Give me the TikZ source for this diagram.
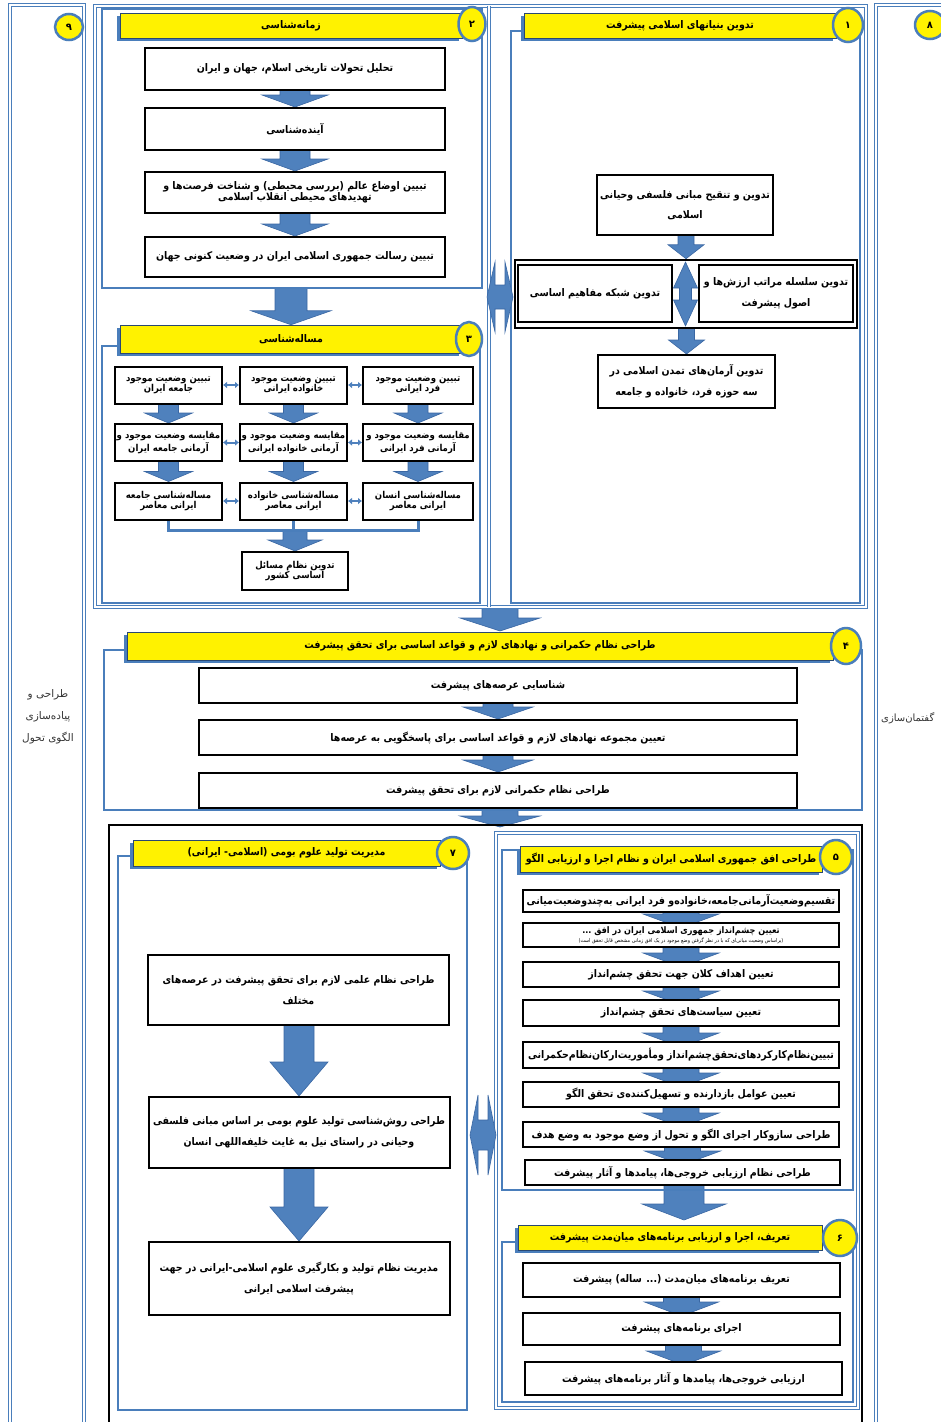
\documentclass[tikz,border=0pt]{standalone}
\usepackage{fontspec}
\usetikzlibrary{calc,arrows.meta,shapes.geometric,shadows}
\newfontfamily\fa[Script=Arabic, FakeStretch=0.9]{DejaVu Sans}
\newfontfamily\fal[Script=Arabic]{DejaVu Sans}
\TeXXeTstate=1
\newcommand{\R}[1]{\beginR #1\endR}
\definecolor{fr}{HTML}{4A7EBB}
\definecolor{arf}{HTML}{4F81BD}
\definecolor{ard}{HTML}{3A67A3}
\pgfdeclarelayer{bg}
\pgfsetlayers{bg,main}
\tikzset{
  box/.style={draw=black, line width=2pt, fill=white, align=center, inner sep=1pt,
    font=\fa\bfseries\fontsize{10.5}{12.5}\selectfont},
  frm/.style={draw=fr, line width=2.5pt},
  dfrm/.style={draw=fr, line width=1.4pt, double=white, double distance=1.6pt},
  hdr/.style={fill=yellow, draw=ard!70!black, line width=0.5pt, inner sep=0pt,
    general shadow={fill=fr, shadow xshift=-3pt, shadow yshift=-3pt},
    font=\fa\bfseries\fontsize{10.5}{12}\selectfont},
  numc/.style={ellipse, fill=yellow, draw=fr, line width=2.5pt, inner sep=0pt,
    font=\fal\bfseries\fontsize{10}{12}\selectfont},
  arr/.style={fill=arf, draw=ard, line width=0.6pt},
  sarr/.style={draw=arf, line width=2pt, {Latex[length=4pt,width=7pt]}-{Latex[length=4pt,width=7pt]}},
  conn/.style={draw=fr, line width=3pt},
  lbl/.style={align=center, inner sep=0pt, font=\fal\fontsize{10.5}{22}\selectfont, text=black!80}
}
% block arrow: start, tip, shaft half width, head half width, head length
\newcommand{\barr}[5]{%
  \path[arr] let \p1=(#1), \p2=(#2) in
   (\x2-#3pt,\y1) -- (\x2+#3pt,\y1) -- (\x2+#3pt,\y2+#5pt) -- (\x2+#4pt,\y2+#5pt)
   -- (\x2,\y2) -- (\x2-#4pt,\y2+#5pt) -- (\x2-#3pt,\y2+#5pt) -- cycle;}
% horizontal double arrow: centre, half length, head half height, shaft half height, head length
\newcommand{\hdarr}[5]{%
  \path[arr] let \p1=(#1) in
   (\x1-#2pt,\y1) -- (\x1-#2pt+#5pt,\y1+#3pt) -- (\x1-#2pt+#5pt,\y1+#4pt)
   -- (\x1+#2pt-#5pt,\y1+#4pt) -- (\x1+#2pt-#5pt,\y1+#3pt) -- (\x1+#2pt,\y1)
   -- (\x1+#2pt-#5pt,\y1-#3pt) -- (\x1+#2pt-#5pt,\y1-#4pt) -- (\x1-#2pt+#5pt,\y1-#4pt)
   -- (\x1-#2pt+#5pt,\y1-#3pt) -- cycle;}
% vertical double arrow
\newcommand{\vdarr}[5]{%
  \path[arr] let \p1=(#1) in
   (\x1,\y1-#2pt) -- (\x1+#3pt,\y1-#2pt+#5pt) -- (\x1+#4pt,\y1-#2pt+#5pt)
   -- (\x1+#4pt,\y1+#2pt-#5pt) -- (\x1+#3pt,\y1+#2pt-#5pt) -- (\x1,\y1+#2pt)
   -- (\x1-#3pt,\y1+#2pt-#5pt) -- (\x1-#4pt,\y1+#2pt-#5pt) -- (\x1-#4pt,\y1-#2pt+#5pt)
   -- (\x1-#3pt,\y1-#2pt+#5pt) -- cycle;}
\begin{document}
\begin{tikzpicture}[x=1pt,y=-1pt]
\useasboundingbox (0,0) rectangle (941,1422);
\clip (0,0) rectangle (941,1422);
% ---------- frames ----------
\draw[dfrm] (10,5) rectangle (84,1440);
\draw[dfrm] (876,5) rectangle (990,1440);
\draw[dfrm] (95,6) rectangle (866,607);
\draw[dfrm] (489,6) -- (489,607);
\draw[frm] (102,9) rectangle (482,288);
\draw[frm] (102,346) rectangle (480,603);
\draw[frm] (511,31) rectangle (860,603);
\draw[frm] (104,650) rectangle (862,810);
\draw[black, line width=2.5pt] (109,825) rectangle (862,1440);
\draw[frm] (118,856) rectangle (467,1410);
\draw[dfrm] (496,833) rectangle (858,1408);
\draw[frm, line width=2pt] (502,850) rectangle (853,1190);
\draw[frm, line width=2pt] (502,1242) rectangle (853,1402);
% ---------- side labels ----------
\node[numc, minimum width=28, minimum height=26] (n9) at (69,27) {۹};
\node[lbl] (l9) at (48,717) {\R{طراحی و}\\\R{پیاده‌سازی}\\\R{الگوی تحول}};
\node[numc, minimum width=30, minimum height=28] (n8) at (930,25) {۸};
\node[lbl, anchor=west, font=\fal\fontsize{10}{12}\selectfont] (l8) at (881,718) {\R{گفتمان‌سازی}};
% ---------- headers ----------
\node[hdr, minimum width=342, minimum height=25] (h2) at (291,25.5) {\R{زمانه‌شناسی}};
\node[numc, minimum width=27, minimum height=34] (n2) at (472,24) {۲};
\node[hdr, minimum width=342, minimum height=28] (h3) at (291,339) {\R{مساله‌شناسی}};
\node[numc, minimum width=26, minimum height=34] (n3) at (469,339) {۳};
\node[hdr, minimum width=312, minimum height=25] (h1) at (680,25.5) {\R{تدوین بنیانهای اسلامی پیشرفت}};
\node[numc, minimum width=30, minimum height=34] (n1) at (848,25) {۱};
\node[hdr, minimum width=706, minimum height=28] (h4) at (480,646) {\R{طراحی نظام حکمرانی و نهادهای لازم و قواعد اساسی برای تحقق پیشرفت}};
\node[numc, minimum width=30, minimum height=36] (n4) at (846,646) {۴};
\node[hdr, minimum width=307, minimum height=26] (h7) at (286.5,853) {\R{مدیریت تولید علوم بومی (اسلامی- ایرانی)}};
\node[numc, minimum width=32, minimum height=32] (n7) at (453,853) {۷};
\node[hdr, minimum width=302, minimum height=26] (h5) at (671,859) {\R{طراحی افق جمهوری اسلامی ایران و نظام اجرا و ارزیابی الگو}};
\node[numc, minimum width=32, minimum height=34] (n5) at (836,857) {۵};
\node[hdr, minimum width=304, minimum height=25] (h6) at (670,1237.5) {\R{تعریف، اجرا و ارزیابی برنامه‌های میان‌مدت پیشرفت}};
\node[numc, minimum width=34, minimum height=36] (n6) at (840,1238) {۶};
% ---------- section 2 ----------
\node[box, minimum width=300, minimum height=42] (b21) at (295,69) {\R{تحلیل تحولات تاریخی اسلام، جهان و ایران}};
\node[box, minimum width=300, minimum height=42] (b22) at (295,129) {\R{آینده‌شناسی}};
\node[box, minimum width=300, minimum height=41, font=\fa\bfseries\fontsize{10.5}{11}\selectfont] (b23) at (295,192.5) {\R{تبیین اوضاع عالم (بررسی محیطی) و شناخت فرصت‌ها و}\\\R{تهدیدهای محیطی انقلاب اسلامی}};
\node[box, minimum width=300, minimum height=40] (b24) at (295,257) {\R{تبیین رسالت جمهوری اسلامی ایران در وضعیت کنونی جهان}};
% ---------- section 3 ----------
\tikzset{b3/.style={box, minimum height=37, font=\fa\bfseries\fontsize{9.5}{10}\selectfont}}
\node[b3, minimum width=110] (r1r) at (418,385) {\R{تبیین وضعیت موجود}\\\R{فرد ایرانی}};
\node[b3, minimum width=107] (r1m) at (293.5,385) {\R{تبیین وضعیت موجود}\\\R{خانواده ایرانی}};
\node[b3, minimum width=107] (r1l) at (168.5,385) {\R{تبیین وضعیت موجود}\\\R{جامعه ایران}};
\node[b3, minimum width=110] (r2r) at (418,442.5) {\R{مقایسه وضعیت موجود و}\\\R{آرمانی فرد ایرانی}};
\node[b3, minimum width=107] (r2m) at (293.5,442.5) {\R{مقایسه وضعیت موجود و}\\\R{آرمانی خانواده ایرانی}};
\node[b3, minimum width=107] (r2l) at (168.5,442.5) {\R{مقایسه وضعیت موجود و}\\\R{آرمانی جامعه ایران}};
\node[b3, minimum width=110] (r3r) at (418,501) {\R{مساله‌شناسی انسان}\\\R{ایرانی معاصر}};
\node[b3, minimum width=107] (r3m) at (293.5,501) {\R{مساله‌شناسی خانواده}\\\R{ایرانی معاصر}};
\node[b3, minimum width=107] (r3l) at (168.5,501) {\R{مساله‌شناسی جامعه}\\\R{ایرانی معاصر}};
\node[b3, minimum width=106, minimum height=38] (b3b) at (295,571) {\R{تدوین نظام مسائل}\\\R{اساسی کشور}};
\coordinate (j3) at (293.5,530);
\draw[conn] (r3l.south) |- (j3) -| (r3r.south);
\draw[conn] (r3m.south) -- (j3);
\foreach \r in {1,2,3}{
  \draw[sarr] (r\r l.east) -- (r\r m.west);
  \draw[sarr] (r\r m.east) -- (r\r r.west);
}
% ---------- section 1 ----------
\node[box, minimum width=176, minimum height=60, font=\fa\bfseries\fontsize{10.5}{20}\selectfont] (b1a) at (685,205) {\R{تدوین و تنقیح مبانی فلسفی وحیانی}\\\R{اسلامی}};
\node[draw=black, line width=2.5pt, minimum width=342, minimum height=68] (pair) at (686,294) {};
\node[box, minimum width=154, minimum height=57] (b1l) at (595,293.5) {\R{تدوین شبکه مفاهیم اساسی}};
\node[box, minimum width=154, minimum height=57, font=\fa\bfseries\fontsize{10.5}{21}\selectfont] (b1r) at (776,293.5) {\R{تدوین سلسله مراتب ارزش‌ها و}\\\R{اصول پیشرفت}};
\node[box, minimum width=177, minimum height=53, font=\fa\bfseries\fontsize{10.5}{21}\selectfont] (b1c) at (686.5,381.5) {\R{تدوین آرمان‌های تمدن اسلامی در}\\\R{سه حوزه فرد، خانواده و جامعه}};
\coordinate (dC) at (685.5,294);
\vdarr{dC}{32}{12}{6}{26}
% ---------- section 4 ----------
\node[box, minimum width=598, minimum height=35] (b41) at (498,685.5) {\R{شناسایی عرصه‌های پیشرفت}};
\node[box, minimum width=598, minimum height=35] (b42) at (498,737.5) {\R{تعیین مجموعه نهادهای لازم و قواعد اساسی برای پاسخگویی به عرصه‌ها}};
\node[box, minimum width=598, minimum height=35] (b43) at (498,790.5) {\R{طراحی نظام حکمرانی لازم برای تحقق پیشرفت}};
% ---------- section 7 ----------
\tikzset{b7/.style={box, minimum width=301, font=\fa\bfseries\fontsize{10.5}{21}\selectfont}}
\node[b7, minimum height=70] (b71) at (298.5,990) {\R{طراحی نظام علمی لازم برای تحقق پیشرفت در عرصه‌های}\\\R{مختلف}};
\node[b7, minimum height=71] (b72) at (299,1132.5) {\R{طراحی روش‌شناسی تولید علوم بومی بر اساس مبانی فلسفی}\\\R{وحیانی در راستای نیل به غایت خلیفه‌اللهی انسان}};
\node[b7, minimum height=73] (b73) at (299,1278.5) {\R{مدیریت نظام تولید و بکارگیری علوم اسلامی-ایرانی در جهت}\\\R{پیشرفت اسلامی ایرانی}};
% ---------- section 5 ----------
\tikzset{b5/.style={box, minimum width=316, minimum height=25}}
\node[b5, minimum height=22] (b51) at (681,901) {\R{تقسیم‌وضعیت‌آرمانی‌جامعه،خانواده‌و فرد ایرانی به‌چندوضعیت‌میانی}};
\node[b5, minimum height=24, font=\fa\bfseries\fontsize{9}{9}\selectfont, inner sep=0.5pt] (b52) at (681,935) {\R{تعیین چشم‌انداز جمهوری اسلامی ایران در افق ...}\\{\fontsize{5.3}{5.5}\selectfont\mdseries\R{(براساس وضعیت میانی‌ای که با در نظر گرفتن وضع موجود در یک افق زمانی مشخص قابل تحقق است)}}};
\node[b5] (b53) at (681,974.5) {\R{تعیین اهداف کلان جهت تحقق چشم‌انداز}};
\node[b5, minimum height=26] (b54) at (681,1013) {\R{تعیین سیاست‌های تحقق چشم‌انداز}};
\node[b5, minimum height=26] (b55) at (681,1055) {\R{تبیین‌نظام‌کارکردهای‌تحقق‌چشم‌انداز و‌مأموریت‌ارکان‌نظام‌حکمرانی}};
\node[b5] (b56) at (681,1094.5) {\R{تعیین عوامل بازدارنده و تسهیل‌کننده‌ی تحقق الگو}};
\node[b5] (b57) at (681,1134.5) {\R{طراحی سازوکار اجرای الگو و تحول از وضع موجود به وضع هدف}};
\node[b5, minimum width=315] (b58) at (682.5,1172.5) {\R{طراحی نظام ارزیابی خروجی‌ها، پیامدها و آثار پیشرفت}};
% ---------- section 6 ----------
\node[box, minimum width=317, minimum height=34] (b61) at (681.5,1280) {\R{تعریف برنامه‌های میان‌مدت (... ساله) پیشرفت}};
\node[box, minimum width=317, minimum height=32] (b62) at (681.5,1329) {\R{اجرای برنامه‌های پیشرفت}};
\node[box, minimum width=317, minimum height=33] (b63) at (683.5,1378.5) {\R{ارزیابی خروجی‌ها، پیامدها و آثار برنامه‌های پیشرفت}};
% ---------- double arrows between columns ----------
\coordinate (dA) at (500,297);
\hdarr{dA}{13}{35}{12}{8}
\coordinate (dB) at (483,1135);
\hdarr{dB}{13}{40}{15}{8}
% ---------- block arrows ----------
\coordinate (s2b) at (293,288);
\coordinate (tb) at (500,607);
\coordinate (t4) at (500,631);
\coordinate (s4b) at (500,810);
\coordinate (bt) at (500,827);
\coordinate (t6) at (684,1220);
\begin{pgfonlayer}{bg}
\barr{b21.center}{b22.north}{15}{33}{12}
\barr{b22.center}{b23.north}{15}{33}{12}
\barr{b23.center}{b24.north}{15}{33}{12}
\barr{s2b}{h3.north}{16}{40}{14}
\foreach \c in {l,m,r}{
  \barr{r1\c.center}{r2\c.north}{10}{24}{10}
  \barr{r2\c.center}{r3\c.north}{10}{24}{10}
}
\barr{j3}{b3b.north}{12}{27}{11}
\barr{b1a.center}{pair.north}{8}{18}{14}
\barr{pair.south}{b1c.north}{8}{18}{14}
\barr{tb}{t4}{18}{40}{13}
\barr{b41.center}{b42.north}{15}{35}{12}
\barr{b42.center}{b43.north}{15}{35}{12}
\barr{s4b}{bt}{18}{40}{11}
\barr{b71.center}{b72.north}{15}{29}{34}
\barr{b72.center}{b73.north}{15}{29}{34}
\barr{b51.center}{$(b52.north)+(0,6)$}{18}{38}{14}
\barr{b52.center}{$(b53.north)+(0,6)$}{18}{38}{14}
\barr{b53.center}{$(b54.north)+(0,6)$}{18}{38}{14}
\barr{b54.center}{$(b55.north)+(0,6)$}{18}{38}{14}
\barr{b55.center}{$(b56.north)+(0,6)$}{18}{38}{14}
\barr{b56.center}{$(b57.north)+(0,6)$}{18}{38}{14}
\barr{b57.center}{$(b58.north)+(0,6)$}{18}{38}{14}
\barr{b58.center}{t6}{20}{42}{16}
\barr{b61.center}{$(b62.north)+(0,4)$}{18}{37}{14}
\barr{b62.center}{$(b63.north)+(0,4)$}{18}{37}{14}
\end{pgfonlayer}
\end{tikzpicture}
\end{document}
